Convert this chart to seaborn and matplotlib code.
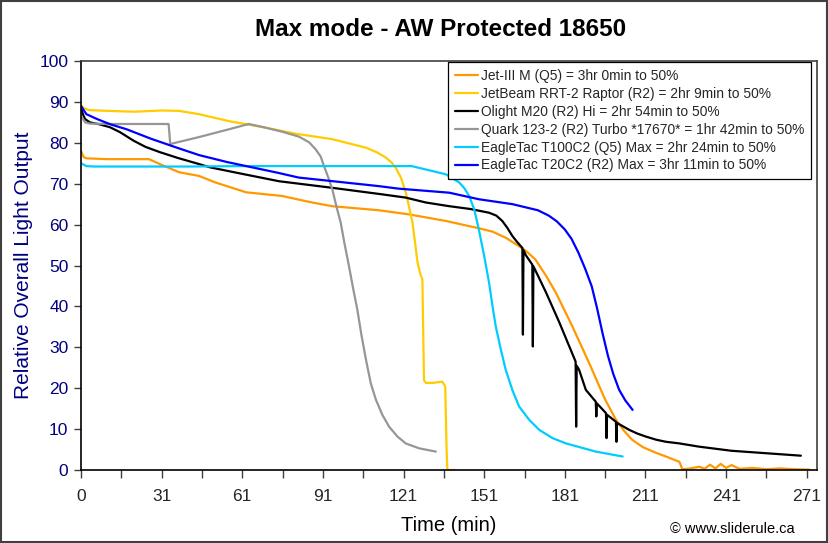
import matplotlib
matplotlib.use("Agg")
import matplotlib.pyplot as plt
import matplotlib.patches as mpatches
import numpy as np
import pandas as pd
import seaborn as sns

# Data (time in minutes, relative output)
jet3m_t = [0, 1, 2, 10, 20, 25.3, 30, 36.5, 43.9, 50, 61.4, 74.8, 86, 93.4, 110.9, 122, 135.7,
           148, 153, 158, 163, 166, 169, 173, 176.7, 182.8, 189, 195, 199, 202, 205, 209, 213.9,
           218, 222.6, 223.7, 226, 230, 232, 234, 236, 238, 240, 242, 245, 250, 255, 260, 265, 271]
jet3m_v = [78, 76.5, 76.2, 76.0, 76.0, 76.0, 74.6, 72.8, 71.9, 70.3, 67.9, 67.0, 65.4, 64.5, 63.5,
           62.5, 60.9, 59.1, 58.3, 56.8, 54.7, 53.3, 51.5, 47.5, 43.3, 35.1, 26.2, 17.2, 12.3, 9.6,
           7.4, 5.6, 4.2, 3.2, 2.0, 0.2, 0.3, 0.8, 0.3, 1.3, 0.4, 1.5, 0.5, 1.2, 0.3, 0.5, 0.2,
           0.4, 0.2, 0.1]

rrt2_t = [0, 1, 3, 10, 20, 30, 36.5, 43.9, 55, 68.7, 80, 93.4, 106, 110, 113.4, 115.5, 117, 119,
          120.8, 122, 123.3, 124.3, 125.2, 126.2, 127, 127.6, 128.3, 131, 134.4, 135.5, 136,
          136.3, 139]
rrt2_v = [89.2, 88.5, 88.0, 87.8, 87.6, 87.9, 87.8, 87.0, 85.3, 83.7, 82.2, 80.9, 78.8, 77.7,
          76.4, 75.2, 74.0, 71.5, 67.9, 64.5, 60.5, 55.5, 50.7, 48.0, 46.6, 22.0, 21.3, 21.3,
          21.6, 20.4, 5.0, 0, 0]

m20_t = [0, 0.7, 1.5, 3.3, 7, 10.8, 14.5, 19.6, 24, 29.4, 36, 43.9, 48, 60, 73.7, 93.4, 112,
         120.8, 128.3, 137, 145, 151.8, 154.5, 156.7, 158.5, 160.5, 162.3, 164.2, 164.4, 164.6,
         165.5, 167.9, 168.1, 168.3, 170, 173, 178, 184, 184.2, 184.4, 185.3, 187.8, 191.5,
         191.7, 191.9, 195.3, 195.5, 195.7, 199, 199.2, 199.4, 204, 207, 210, 214, 217.6, 222.6,
         230, 242, 254.9, 267.8]
m20_v = [88.7, 87.0, 85.8, 85.0, 84.5, 83.8, 82.6, 80.5, 79.0, 77.7, 76.3, 74.8, 74.0, 72.4,
         70.6, 69.0, 67.4, 66.6, 65.4, 64.5, 63.8, 62.9, 62.2, 60.9, 59.3, 57.2, 55.7, 54.3,
         33.1, 53.8, 52.5, 50.2, 30.2, 49.8, 47.5, 43.4, 36.0, 26.5, 10.6, 25.5, 24.5, 19.6,
         16.7, 13.1, 16.3, 13.9, 7.8, 13.5, 11.8, 6.9, 11.5, 9.8, 8.9, 8.2, 7.4, 6.9, 6.5, 5.7,
         4.7, 4.1, 3.5]

quark_t = [0, 1.5, 3.3, 10, 20, 32.6, 33.2, 43.9, 55, 62.4, 68, 74.9, 81.1, 84.9, 87.3, 89.2,
           90.4, 92.0, 93.5, 95.0, 96.6, 98.1, 99.7, 101.2, 102.8, 104.3, 106, 107.8, 109.7,
           112.1, 114.6, 117.7, 120.8, 125.8, 132]
quark_v = [86.6, 85.0, 84.7, 84.6, 84.6, 84.6, 79.7, 81.4, 83.3, 84.6, 83.8, 82.7, 81.5, 80.1,
           78.4, 76.6, 74.3, 71.5, 68.6, 64.5, 60.5, 55.1, 49.8, 44.5, 39.2, 33.1, 27.0, 21.2,
           17.2, 13.5, 10.6, 8.2, 6.5, 5.3, 4.5]

t100_t = [0, 2, 5, 20, 40, 60, 80, 100, 118, 123, 130.7, 135.7, 140.7, 142.5, 144.4, 146.3, 148,
          150, 151.8, 153.1, 154.3, 156.2, 158, 160.5, 163, 166.7, 170.5, 175.4, 180.4, 191.5,
          201.5]
t100_v = [75.0, 74.3, 74.2, 74.2, 74.2, 74.3, 74.3, 74.3, 74.3, 74.3, 73.1, 72.3, 70.3, 69.0,
          67.0, 63.7, 58.8, 52.3, 45.8, 40.0, 35.1, 29.4, 24.5, 19.5, 15.5, 12.3, 9.8, 7.8, 6.5,
          4.5, 3.3]

t20_t = [0, 1, 2, 4, 6, 11, 17, 26, 35.7, 43.9, 54.3, 73, 81, 110.9, 118, 137, 148, 160.5, 170,
         174, 177, 180, 182.5, 185, 187.5, 190, 192, 194, 196, 198, 200.2, 202.5, 205.2]
t20_v = [89.0, 88.0, 87.0, 86.4, 85.8, 84.5, 83.3, 81.0, 78.8, 77.0, 75.3, 72.7, 71.5, 69.4,
         68.8, 67.8, 66.2, 65.0, 63.5, 62.2, 60.8, 58.8, 56.5, 53.2, 49.3, 44.9, 39.5, 33.5,
         28.0, 23.5, 19.6, 17.0, 14.7]

names = ["Jet-III M (Q5) = 3hr 0min to 50%",
         "JetBeam RRT-2 Raptor (R2) = 2hr 9min to 50%",
         "Olight M20 (R2) Hi = 2hr 54min to 50%",
         "Quark 123-2 (R2) Turbo *17670* = 1hr 42min to 50%",
         "EagleTac T100C2 (Q5) Max = 2hr 24min to 50%",
         "EagleTac T20C2 (R2) Max = 3hr 11min to 50%"]
colors = ["#FF9900", "#FFCC00", "#000000", "#969696", "#00CCFF", "#0000FF"]
series = [(jet3m_t, jet3m_v), (rrt2_t, rrt2_v), (m20_t, m20_v),
          (quark_t, quark_v), (t100_t, t100_v), (t20_t, t20_v)]

tick_pos = list(range(0, 271, 30))
tick_labels = ["0", "31", "61", "91", "121", "151", "181", "211", "241", "271"]

sns.set_theme(style="white")
plt.rcParams['font.family'] = ['Liberation Sans', 'DejaVu Sans']

fig = plt.figure(figsize=(8.29, 5.43), dpi=100)
ax = fig.add_axes([81 / 829, 1 - 470 / 543, 736 / 829, 409 / 543])

for (t, v), name, c in zip(series, names, colors):
    df = pd.DataFrame({"t": t, "v": v})
    sns.lineplot(data=df, x="t", y="v", ax=ax, color=c, label=name, linewidth=1.6,
                 estimator=None, sort=False)

ax.set_xlim(0, 273.8)
ax.set_ylim(0, 100)
ax.set_xticks(tick_pos)
ax.set_xticklabels(tick_labels)
ax.set_xticks(np.arange(15, 271, 30), minor=True)
ax.set_yticks(range(0, 101, 10))
ax.tick_params(axis='x', which='both', direction='out', length=6, width=1, color='#404040',
               bottom=True, labelsize=12.5, pad=8)
ax.tick_params(axis='y', which='major', direction='out', length=5, width=1, color='#404040',
               left=True, labelsize=12.5, labelcolor='#000080', pad=4)
for s in ax.spines.values():
    s.set_color('#404040')
    s.set_linewidth(1.2)
ax.spines['left'].set_color('black')
ax.spines['bottom'].set_color('black')

ax.set_xlabel("Time (min)", fontsize=14.5, color='black', labelpad=8)
ax.set_ylabel("Relative Overall Light Output", fontsize=15, color='#000080', labelpad=5)

leg = ax.legend(loc='upper right', bbox_to_anchor=(0.992, 0.997), fontsize=9.9,
                frameon=True, fancybox=False, framealpha=1, edgecolor='black',
                handlelength=1.7, handletextpad=0.2, labelspacing=0.28, borderpad=0.5,
                borderaxespad=0)
leg.get_frame().set_linewidth(0.9)

fig.text(441 / 829, 1 - 30 / 543, "Max mode - AW Protected 18650", ha='center', va='center',
         fontsize=17.5, fontweight='bold', color='black')
fig.text(795 / 829, 1 - 529 / 543, "\u00a9 www.sliderule.ca", ha='right', va='center',
         fontsize=10.5, color='black')
fig.patches.append(mpatches.Rectangle((0.001, 0.002), 0.997, 0.996, transform=fig.transFigure,
                                      fill=False, edgecolor='#404040', linewidth=1.5))

fig.savefig("out.png", dpi=100)
